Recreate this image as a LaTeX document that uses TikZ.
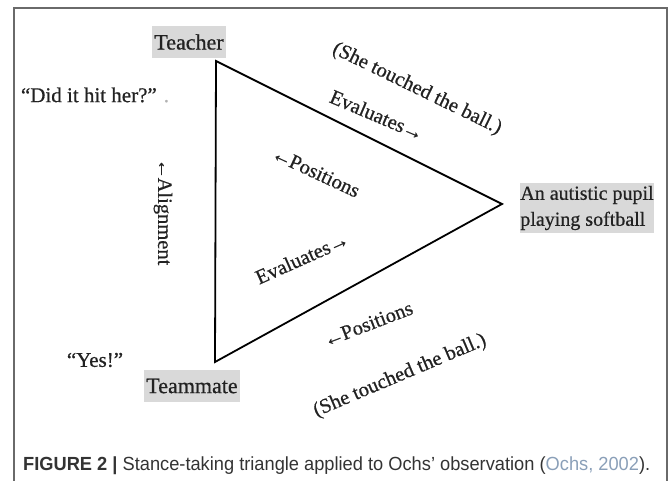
\documentclass[tikz,border=0pt]{standalone}
\usepackage{fontspec}
\usepackage{graphicx}
\setmainfont{Liberation Serif}[FakeBold=0.6]
\newfontfamily\capfont{Liberation Sans}
\definecolor{boxgray}{HTML}{D9D9D9}
\definecolor{inkc}{HTML}{222222}
\definecolor{citec}{HTML}{8A9FB8}
\definecolor{capc}{HTML}{333333}
\definecolor{framec}{HTML}{6A6A6A}
\newcommand{\larr}{←\kern-1.5pt}
\newcommand{\rarr}{\kern-0.5pt→}
\tikzset{
  x=1pt, y=-1pt,
  lbl/.style={font=\fontsize{20.5}{23}\selectfont, text=inkc, inner sep=0pt},
  actor/.style={lbl, font=\fontsize{22}{24}\selectfont, fill=boxgray, inner sep=0pt},
  tri/.style={line width=1.8pt, line join=miter, draw=black},
  frame/.style={draw=framec, line width=1.1pt},
}
\begin{document}
\begin{tikzpicture}
\useasboundingbox (0,0) rectangle (669,481);
% frame (open at bottom)
\draw[frame] (14,490) -- (14,8) -- (667,8) -- (667,490);
% triangle corners
\coordinate (A) at (216,61);
\coordinate (B) at (502,204);
\coordinate (C) at (215,362);
\draw[tri] (A) -- (B) -- (C) -- cycle;
% actors
\node[actor, minimum width=74pt, minimum height=32pt] (teacher) at (189,42) {Teacher};
\node[actor, minimum width=96pt, minimum height=32pt] (teammate) at (192,386) {Teammate};
\node[actor, minimum width=132pt, minimum height=50pt, align=left, font=\fontsize{20}{26}\selectfont] (pupil) at (587,208) {An autistic pupil\\playing softball};
% utterances
\node[lbl, font=\fontsize{21}{23}\selectfont] (q1) at (95,95) {“Did it hit her?” \textcolor{gray!60}{.}};
\node[lbl, font=\fontsize{21}{23}\selectfont] (q2) at (95,360) {“Yes!”};
\node[lbl, rotate=-90] (align) at (163,212) {\larr Alignment};
% top edge labels
\node[lbl, rotate=-26] (tball) at (417,89) {(She touched the ball.)};
\node[lbl, rotate=-23] (teval) at (377,115) {Evaluates\rarr};
% inner labels
\node[lbl, rotate=-25] (ipos) at (316,172) {\larr Positions};
\node[lbl, rotate=24] (ieval) at (302,258) {Evaluates\rarr};
% bottom edge labels
\node[lbl, rotate=21] (bpos) at (368,324) {\larr Positions};
\node[lbl, rotate=23] (bball) at (400,376) {(She touched the ball.)};
% caption
\node[anchor=base west, inner sep=0pt, text=capc, font=\capfont\fontsize{19}{22}\selectfont] (cap) at (23,470)
  {\resizebox{627pt}{\height}{\textbf{FIGURE 2 |} Stance-taking triangle applied to Ochs’ observation (\textcolor{citec}{Ochs, 2002}).}};
\end{tikzpicture}
\end{document}
